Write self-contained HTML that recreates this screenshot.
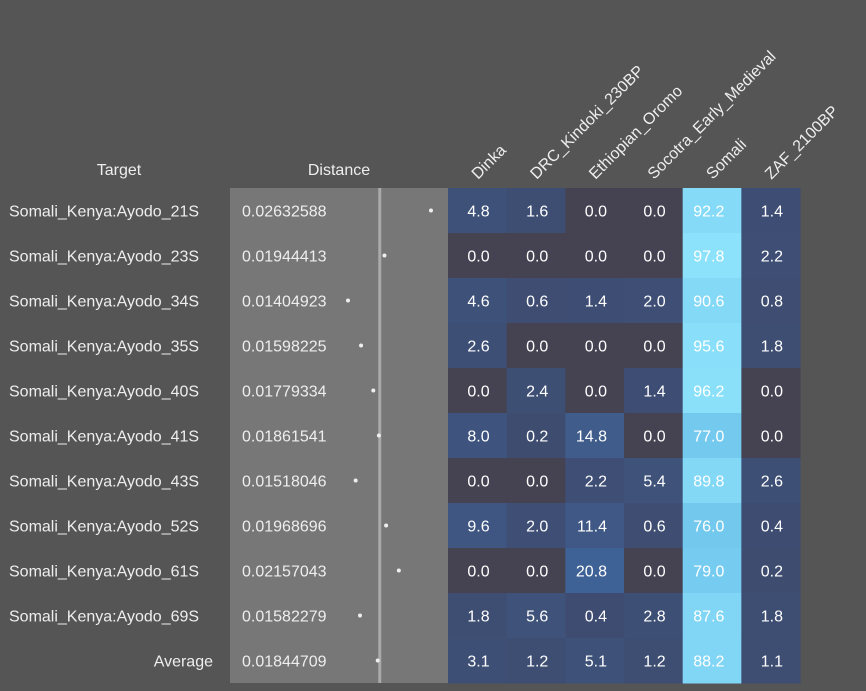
<!DOCTYPE html>
<html><head><meta charset="utf-8">
<style>
body{margin:0;background:#555555;font-family:"Liberation Sans",sans-serif;}
#c{position:relative;width:866px;height:691px;overflow:hidden;}
svg text{font-family:"Liberation Sans",sans-serif;}
</style></head><body>
<div id="c">
<svg id="s" width="866" height="691"></svg>
</div>
<script>
const targets=["Somali_Kenya:Ayodo_21S","Somali_Kenya:Ayodo_23S","Somali_Kenya:Ayodo_34S","Somali_Kenya:Ayodo_35S","Somali_Kenya:Ayodo_40S","Somali_Kenya:Ayodo_41S","Somali_Kenya:Ayodo_43S","Somali_Kenya:Ayodo_52S","Somali_Kenya:Ayodo_61S","Somali_Kenya:Ayodo_69S","Average"];
const distances=[0.02632588,0.01944413,0.01404923,0.01598225,0.01779334,0.01861541,0.01518046,0.01968696,0.02157043,0.01582279,0.01844709];
const sources=["Dinka","DRC_Kindoki_230BP","Ethiopian_Oromo","Socotra_Early_Medieval","Somali","ZAF_2100BP"];
const dinka=[4.8,0.0,4.6,2.6,0.0,8.0,0.0,9.6,0.0,1.8,3.1];
const drc=[1.6,0.0,0.6,0.0,2.4,0.2,0.0,2.0,0.0,5.6,1.2];
const oromo=[0.0,0.0,1.4,0.0,0.0,14.8,2.2,11.4,20.8,0.4,5.1];
const socotra=[0.0,0.0,2.0,0.0,1.4,0.0,5.4,0.6,0.0,2.8,1.2];
const somali=[92.2,97.8,90.6,95.6,96.2,77.0,89.8,76.0,79.0,87.6,88.2];
const zaf=[1.4,2.2,0.8,1.8,0.0,0.0,2.6,0.4,0.2,1.8,1.1];
const refLine=0.01875;
const series=[dinka,drc,oromo,socotra,somali,zaf];

const NS="http://www.w3.org/2000/svg";
const svg=document.getElementById('s');
function el(t,a,p){const e=document.createElementNS(NS,t);for(const k in a)e.setAttribute(k,a[k]);(p||svg).appendChild(e);return e;}
const top0=188,rowH=45,cellX0=448,cellW=58.67;
const yRow=i=>top0+i*rowH;
const xDist=v=>348+(v-0.01404923)*6759;
function color(v){
  if(v===0) return 'rgb(69,67,82)';
  const stops=[[0,[62,76,112]],[21,[63,98,150]],[76,[115,200,238]],[98,[140,226,250]]];
  for(let i=0;i<stops.length-1;i++){const[a,ca]=stops[i],[b,cb]=stops[i+1];
    if(v<=b){const t=(v-a)/(b-a);return 'rgb('+ca.map((c,j)=>Math.round(c+(cb[j]-c)*t)).join(',')+')';}}
  return 'rgb(140,226,250)';
}
let t;
t=el('text',{x:119,y:175,'text-anchor':'middle',fill:'#eeeeee','font-size':16});t.textContent='Target';


t=el('text',{x:339,y:175,'text-anchor':'middle',fill:'#eeeeee','font-size':16});t.textContent='Distance';


let r=el('rect',{x:230,y:top0,width:218,height:rowH*targets.length,fill:'#777777'});


let ln=el('rect',{x:xDist(refLine)-1.5,y:top0,width:3,height:rowH*targets.length,fill:'#aaaaaa'});


sources.forEach((s,j)=>{
  const x=cellX0+j*cellW+30,y=180;
  const tx=el('text',{x:x,y:y,fill:'#eeeeee','font-size':16,transform:'rotate(-45 '+x+' '+y+')'});tx.textContent=s;
  
  
});
targets.forEach((name,i)=>{
  const cy=yRow(i)+rowH/2+6;
  const a=el('text',{x:i===10?213:9,y:cy,'text-anchor':i===10?'end':'start',fill:'#eeeeee','font-size':16});a.textContent=name;
  
  
  const d=el('text',{x:242,y:cy,fill:'#eeeeee','font-size':16});d.textContent=distances[i].toFixed(8);
  
  
  const dot=el('circle',{cx:xDist(distances[i]),cy:yRow(i)+rowH/2,r:2,fill:'#eeeeee'});
  
  
  series.forEach((arr,j)=>{
    const v=arr[i];
    const c=el('rect',{x:cellX0+j*cellW,y:yRow(i),width:cellW+0.5,height:rowH+0.5,fill:color(v)});
    
    
    const vt=el('text',{x:cellX0+(j+1)*cellW-17,y:cy,'text-anchor':'end',fill:'#ffffff','font-size':16});vt.textContent=v.toFixed(1);
    
    
  });
});
</script>
</body></html>
